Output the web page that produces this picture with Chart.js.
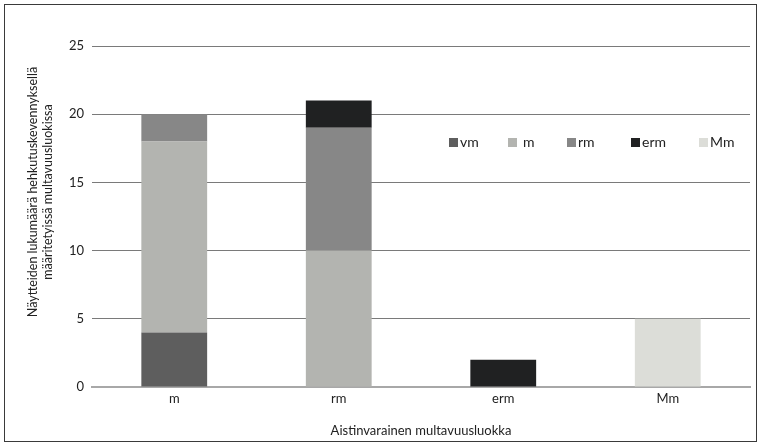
<!DOCTYPE html>
<html>
<head>
<meta charset="utf-8">
<script src="https://cdn.jsdelivr.net/npm/chart.js@4"></script>
<style>
  html, body { margin: 0; padding: 0; background: #fff; }
  #frame { position: absolute; left: 4px; top: 4px; width: 751px; height: 436px; border: 1px solid #3a3a3a; }
  #frame canvas { display: block; }
</style>
</head>
<body>
<div id="frame"><canvas id="chart" width="751" height="436"></canvas></div>
<script>
const categories = ['m', 'rm', 'erm', 'Mm'];
const seriesNames = ['vm', 'm', 'rm', 'erm', 'Mm'];
const vmValues  = [4, 0, 0, 0];
const mValues   = [14, 10, 0, 0];
const rmValues  = [2, 9, 0, 0];
const ermValues = [0, 2, 2, 0];
const MmValues  = [0, 0, 0, 5];
const yTicks = [0, 5, 10, 15, 20, 25];
const yTitle = ['Näytteiden lukumäärä hehkutuskevennyksellä', 'määritetyissä multavuusluokissa'];
const colors = ['#5e5e5e', '#b3b4b0', '#878787', '#202122', '#dcddd8'];

const font = "Lato, 'Open Sans', sans-serif";
const allValues = [vmValues, mValues, rmValues, ermValues, MmValues];

// legend drawn inside the plot area, one row
const insideLegend = {
  id: 'insideLegend',
  afterDraw(chart) {
    const ctx = chart.ctx;
    const area = chart.chartArea;
    const offsets = [0, 59, 118, 182, 250];
    const y = area.top + 96;
    ctx.save();
    ctx.font = '14px ' + font;
    ctx.textBaseline = 'middle';
    seriesNames.forEach((name, i) => {
      const x = area.left + 357 + offsets[i];
      ctx.fillStyle = colors[i];
      ctx.fillRect(x, y - 4, 9, 9);
      ctx.fillStyle = '#222';
      ctx.fillText(name, x + (i === 1 ? 15 : 11), y);
    });
    ctx.restore();
  }
};

// y axis title, centred a bit above the middle like the original
const yAxisTitle = {
  id: 'yAxisTitle',
  afterDraw(chart) {
    const ctx = chart.ctx;
    const area = chart.chartArea;
    ctx.save();
    ctx.translate(0, area.top + 146);
    ctx.rotate(-Math.PI / 2);
    ctx.font = '12.5px ' + font;
    ctx.fillStyle = '#222';
    ctx.textAlign = 'center';
    ctx.textBaseline = 'middle';
    ctx.fillText(yTitle[0], 0, 28);
    ctx.fillText(yTitle[1], 0, 43);
    ctx.restore();
  }
};

new Chart(document.getElementById('chart'), {
  type: 'bar',
  data: {
    labels: categories,
    datasets: seriesNames.map((name, i) => ({
      label: name,
      data: allValues[i],
      backgroundColor: colors[i],
      borderWidth: 0,
      barPercentage: 0.4,
      categoryPercentage: 1.0
    }))
  },
  options: {
    responsive: false,
    animation: false,
    layout: { padding: { top: 41, right: 6, left: 0, bottom: -2 } },
    plugins: {
      legend: { display: false },
      tooltip: { enabled: false }
    },
    scales: {
      x: {
        stacked: true,
        grid: { display: false, drawTicks: false },
        border: { color: '#a8a8a8', width: 2 },
        ticks: { color: '#222', font: { family: font, size: 13 }, padding: 4 },
        title: {
          display: true,
          text: 'Aistinvarainen multavuusluokka',
          color: '#222',
          font: { family: font, size: 13 },
          padding: { top: 8 }
        },
        afterFit(scale) { scale.height = 56; }
      },
      y: {
        stacked: true,
        min: 0,
        max: 25,
        afterBuildTicks(scale) { scale.ticks = yTicks.map(v => ({ value: v })); },
        grid: {
          color: ctx => ctx.tick && ctx.tick.value === 0 ? '#a8a8a8' : '#7a7a7a',
          drawTicks: false
        },
        border: { display: false },
        ticks: { color: '#222', font: { family: font, size: 13 }, padding: 8 },
        afterFit(scale) { scale.width = 87; }
      }
    }
  },
  plugins: [insideLegend, yAxisTitle]
});
</script>
</body>
</html>
